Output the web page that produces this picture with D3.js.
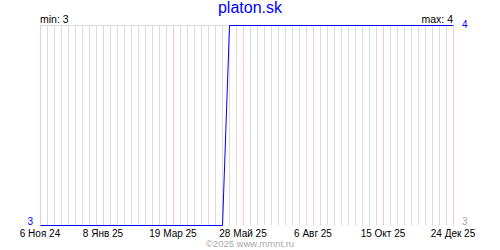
<!DOCTYPE html>
<html>
<head>
<meta charset="utf-8">
<script src="https://cdn.jsdelivr.net/npm/d3@7"></script>
<style>
  body { margin: 0; background: #fff; }
  svg { display: block; font-family: "Liberation Sans", Arial, sans-serif; }
</style>
</head>
<body>
<svg width="500" height="250"></svg>
<script>
// data
const title = 'platon.sk';
const footer = '\u00a92025 www.mmnt.ru';
const dateRange = ['2024-11-06', '2025-12-24'];
const pointDates = ['2024-11-06', '2025-05-07', '2025-05-14', '2025-12-24'];
const pointValues = [3, 3, 4, 4];
const labelDates = ['2024-11-06', '2025-01-08', '2025-03-19', '2025-05-28', '2025-08-06', '2025-10-15', '2025-12-24'];
const labelTexts = ['6 Ноя 24', '8 Янв 25', '19 Мар 25', '28 Май 25', '6 Авг 25', '15 Окт 25', '24 Дек 25'];
const minValue = 3;
const maxValue = 4;

const parse = d3.utcParse('%Y-%m-%d');
const margin = { left: 40, right: 47, top: 25, bottom: 25 };
const width = 500, height = 250;

const svg = d3.select('svg');

const x = d3.scaleUtc()
  .domain(dateRange.map(parse))
  .range([margin.left, width - margin.right]);
const y = d3.scaleLinear()
  .domain([minValue, maxValue])
  .range([height - margin.bottom, margin.top]);

const g = svg.append('g').attr('transform', 'translate(0.5,0.5)');

// weekly grid lines
const weeks = d3.utcWednesday.range(x.domain()[0], d3.utcDay.offset(x.domain()[1], 1));
g.selectAll('.week')
  .data(weeks)
  .join('line')
    .attr('class', 'week')
    .attr('x1', d => Math.round(x(d))).attr('x2', d => Math.round(x(d)))
    .attr('y1', y(maxValue)).attr('y2', y(minValue))
    .attr('stroke', '#dcdcdc');

// label grid lines in pink
const labels = labelDates.map(parse);
g.selectAll('.major')
  .data(labels)
  .join('line')
    .attr('class', 'major')
    .attr('x1', d => Math.round(x(d))).attr('x2', d => Math.round(x(d)))
    .attr('y1', y(maxValue)).attr('y2', y(minValue))
    .attr('stroke', '#fbc8c8');

// top border line
g.append('line')
  .attr('x1', x.range()[0]).attr('x2', x.range()[1])
  .attr('y1', y(maxValue)).attr('y2', y(maxValue))
  .attr('stroke', '#dcdcdc');

// series
const data = pointDates.map((d, i) => ({ date: parse(d), value: pointValues[i] }));
const line = d3.line().x(d => Math.round(x(d.date))).y(d => y(d.value));
g.append('path')
  .datum(data)
  .attr('d', line)
  .attr('fill', 'none')
  .attr('stroke', '#0000ff')
  .attr('stroke-width', 1);

// x labels
svg.selectAll('.xlabel')
  .data(labels)
  .join('text')
    .attr('class', 'xlabel')
    .attr('x', d => x(d))
    .attr('y', 237)
    .attr('text-anchor', 'middle')
    .attr('font-size', 10)
    .attr('fill', '#000')
    .text((d, i) => labelTexts[i]);

// title
svg.append('text')
  .attr('x', width / 2).attr('y', 13)
  .attr('text-anchor', 'middle')
  .attr('font-size', 16)
  .attr('fill', '#0000ff')
  .text(title);

// min / max
svg.append('text')
  .attr('x', x.range()[0]).attr('y', 23)
  .attr('font-size', 10.5)
  .text('min: ' + minValue);
svg.append('text')
  .attr('x', x.range()[1]).attr('y', 23)
  .attr('text-anchor', 'end')
  .attr('font-size', 10.5)
  .text('max: ' + maxValue);

// value labels
svg.append('text')
  .attr('x', 462).attr('y', 28)
  .attr('font-size', 10).attr('fill', '#0000ff')
  .text(maxValue);
svg.append('text')
  .attr('x', 33).attr('y', 225)
  .attr('text-anchor', 'end')
  .attr('font-size', 10).attr('fill', '#0000ff')
  .text(minValue);
svg.append('text')
  .attr('x', 462).attr('y', 225)
  .attr('font-size', 10).attr('fill', '#aaa')
  .text(minValue);

// footer
svg.append('text')
  .attr('x', width / 2).attr('y', 247)
  .attr('text-anchor', 'middle')
  .attr('font-size', 9.5)
  .attr('fill', '#aaa')
  .text(footer);
</script>
</body>
</html>
